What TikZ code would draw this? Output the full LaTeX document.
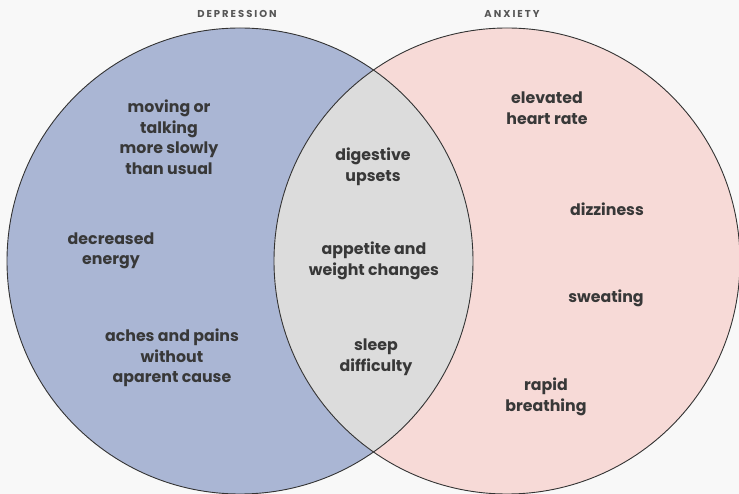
\documentclass[tikz,border=0pt]{standalone}
\usepackage{fontspec}
\setmainfont{Poppins}
\definecolor{depblue}{HTML}{AAB6D4}
\definecolor{anxpink}{HTML}{F7DAD7}
\definecolor{bothgray}{HTML}{DCDCDC}
\definecolor{bgcol}{HTML}{F8F8F8}
\definecolor{txt}{HTML}{383838}
\begin{document}
\begin{tikzpicture}[
    x=1pt, y=-1pt,
    every node/.style={font=\bfseries\fontsize{15.8}{20.5}\selectfont, text=txt, align=center, inner sep=0pt},
    title/.style={font=\bfseries\fontsize{10}{12}\selectfont\addfontfeatures{LetterSpace=20}, text=txt!85},
    rim/.style={draw=black!80, line width=0.9pt}
]

% pozadi
\fill[bgcol] (0,0) rectangle (739,494);
\useasboundingbox (0,0) rectangle (739,494);

% mnoziny
\fill[depblue] (240,261) circle (233pt);
\fill[anxpink] (507,261) circle (233pt);
\begin{scope}
  \clip (240,261) circle (233pt);
  \fill[bothgray] (507,261) circle (233pt);
\end{scope}
\draw[rim] (240,261) circle (233pt);
\draw[rim] (507,261) circle (233pt);

% nadpisy
\node[title] (tdep) at (237,14) {DEPRESSION};
\node[title] (tanx) at (512,14) {ANXIETY};

% deprese
\node (slow) at (169,137) {moving or\\talking\\more slowly\\than usual};
\node (energy) at (111,251) {decreased\\energy};
\node (aches) at (172,358) {aches and pains\\without\\aparent cause};

% spolecne
\node (digest) at (373,167) {digestive\\upsets};
\node (appetite) at (374,261) {appetite and\\weight changes};
\node (sleep) at (376,357) {sleep\\difficulty};

% uzkost
\node (heart) at (547,108) {elevated\\heart rate};
\node (dizzy) at (607,209) {dizziness};
\node (sweat) at (606,298) {sweating};
\node (breath) at (546,397) {rapid\\breathing};

\end{tikzpicture}
\end{document}
